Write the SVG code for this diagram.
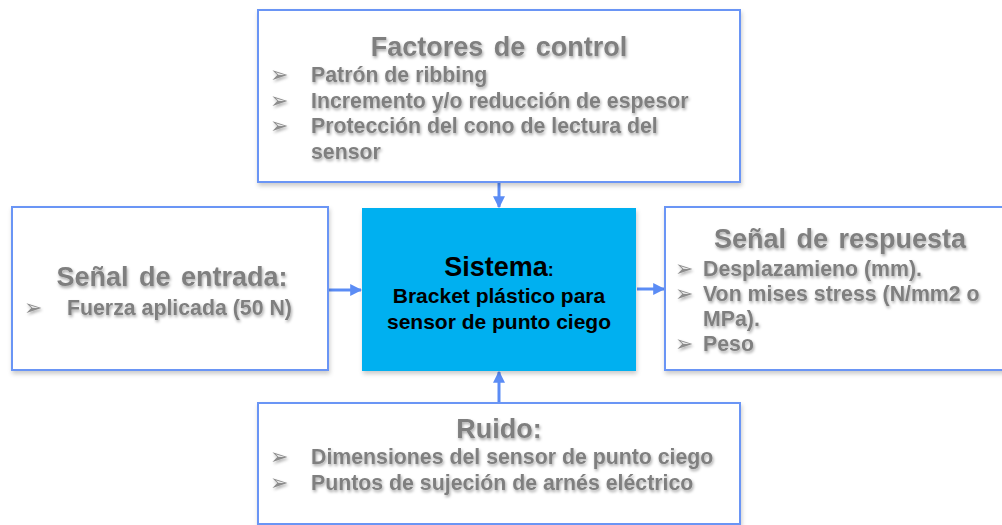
<svg xmlns="http://www.w3.org/2000/svg" width="1002" height="525" viewBox="0 0 1002 525">
<defs>
<filter id="bs" x="-5%" y="-5%" width="110%" height="115%">
<feDropShadow dx="1" dy="3" stdDeviation="2" flood-color="#000" flood-opacity="0.2"/>
</filter>
<filter id="ts" x="-5%" y="-20%" width="110%" height="160%">
<feDropShadow dx="1" dy="2" stdDeviation="1.5" flood-color="#000" flood-opacity="0.35"/>
</filter>
<marker id="ah" viewBox="0 0 10 10" refX="9" refY="5" markerWidth="4" markerHeight="4" orient="auto" markerUnits="strokeWidth">
<path d="M0,0 L10,5 L0,10 z" fill="#5b8cf5"/>
</marker>
<style>
.box{fill:#fff;stroke:#6b95f5;stroke-width:2}
.sys{fill:#00b0f0}
.t{font-family:"Liberation Sans",Arial,sans-serif;font-weight:bold;fill:#7f7f7f}
.h{font-size:27px;word-spacing:3px}
.i{font-size:21.3px}
.b{font-family:"DejaVu Sans",sans-serif;font-size:22px;fill:#8c8c8c}
.k{font-family:"Liberation Sans",Arial,sans-serif;font-weight:bold;fill:#000}
.c{stroke:#5b8cf5;stroke-width:3;fill:none}
</style>
</defs>
<g id="connectors">
<line class="c" x1="499" y1="182" x2="499" y2="207" marker-end="url(#ah)"/>
<line class="c" x1="329" y1="290" x2="361" y2="290" marker-end="url(#ah)"/>
<line class="c" x1="637" y1="289" x2="664" y2="289" marker-end="url(#ah)"/>
<line class="c" x1="499" y1="403" x2="499" y2="372" marker-end="url(#ah)"/>
</g>
<g id="factores">
<rect class="box" x="258" y="10" width="482" height="172" filter="url(#bs)"/>
<g filter="url(#ts)">
<text class="t h" x="499" y="56" text-anchor="middle">Factores de control</text>
<text class="b" x="270" y="82">➢</text>
<text class="t i" x="311" y="82">Patrón de ribbing</text>
<text class="b" x="270" y="108">➢</text>
<text class="t i" x="311" y="108">Incremento y/o reducción de espesor</text>
<text class="b" x="270" y="133">➢</text>
<text class="t i" x="311" y="133">Protección del cono de lectura del</text>
<text class="t i" x="311" y="159">sensor</text>
</g>
</g>
<g id="entrada">
<rect class="box" x="12" y="207" width="316" height="163" filter="url(#bs)"/>
<g filter="url(#ts)">
<text class="t h" x="172" y="286" text-anchor="middle">Señal de entrada:</text>
<text class="b" x="24" y="315">➢</text>
<text class="t i" x="67" y="315">Fuerza aplicada (50 N)</text>
</g>
</g>
<g id="sistema">
<rect class="sys" x="362" y="208" width="274" height="163" filter="url(#bs)"/>
<text class="k" x="499" y="276" text-anchor="middle"><tspan font-size="27px">Sistema</tspan><tspan font-size="18px">:</tspan></text>
<text class="k" x="499" y="303" text-anchor="middle" font-size="21px">Bracket plástico para</text>
<text class="k" x="499" y="329" text-anchor="middle" font-size="21px">sensor de punto ciego</text>
</g>
<g id="respuesta">
<rect class="box" x="665" y="207" width="345" height="163" filter="url(#bs)"/>
<g filter="url(#ts)">
<text class="t h" x="840" y="248" text-anchor="middle">Señal de respuesta</text>
<text class="b" x="675" y="276">➢</text>
<text class="t i" x="703" y="276">Desplazamieno (mm).</text>
<text class="b" x="675" y="301">➢</text>
<text class="t i" x="703" y="301">Von mises stress (N/mm2 o</text>
<text class="t i" x="703" y="326">MPa).</text>
<text class="b" x="675" y="351">➢</text>
<text class="t i" x="703" y="351">Peso</text>
</g>
</g>
<g id="ruido">
<rect class="box" x="258" y="403" width="482" height="121" filter="url(#bs)"/>
<g filter="url(#ts)">
<text class="t h" x="499" y="438" text-anchor="middle">Ruido:</text>
<text class="b" x="270" y="464">➢</text>
<text class="t i" x="311" y="464">Dimensiones del sensor de punto ciego</text>
<text class="b" x="270" y="490">➢</text>
<text class="t i" x="311" y="490">Puntos de sujeción de arnés eléctrico</text>
</g>
</g>
</svg>
